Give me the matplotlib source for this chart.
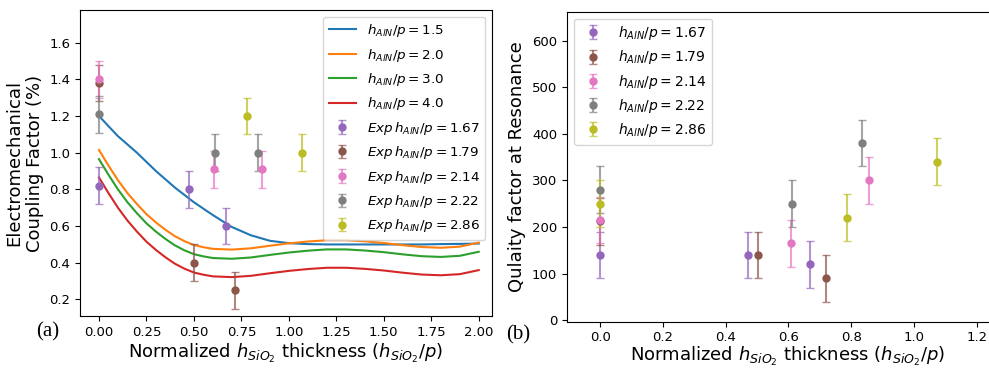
import numpy as np
import matplotlib
matplotlib.use('Agg')
import matplotlib.pyplot as plt

# simulated curves
sim_x = [0.0, 0.05, 0.1, 0.15, 0.2, 0.25, 0.3, 0.35, 0.4, 0.45, 0.5, 0.55, 0.6,
         0.7, 0.8, 0.9, 1.0, 1.1, 1.2, 1.3, 1.4, 1.5, 1.6, 1.7, 1.8, 1.9, 2.0]
sim_labels = [r'$h_{AlN}/p = 1.5$', r'$h_{AlN}/p = 2.0$',
              r'$h_{AlN}/p = 3.0$', r'$h_{AlN}/p = 4.0$']
k_15 = [1.20, 1.145, 1.09, 1.045, 1.00, 0.95, 0.90, 0.855, 0.81, 0.77, 0.73, 0.695, 0.66,
        0.595, 0.55, 0.52, 0.507, 0.502, 0.50, 0.50, 0.50, 0.50, 0.50, 0.50, 0.502, 0.503, 0.505]
k_20 = [1.015, 0.93, 0.85, 0.78, 0.72, 0.665, 0.62, 0.58, 0.545, 0.518, 0.497, 0.485, 0.476,
        0.472, 0.479, 0.493, 0.506, 0.516, 0.523, 0.523, 0.517, 0.508, 0.496, 0.486, 0.482, 0.488, 0.51]
k_30 = [0.965, 0.88, 0.80, 0.73, 0.67, 0.615, 0.57, 0.53, 0.495, 0.468, 0.447, 0.435, 0.426,
        0.422, 0.429, 0.443, 0.456, 0.466, 0.473, 0.473, 0.467, 0.458, 0.446, 0.436, 0.432, 0.438, 0.46]
k_40 = [0.865, 0.78, 0.70, 0.63, 0.57, 0.515, 0.47, 0.43, 0.395, 0.368, 0.347, 0.335, 0.326,
        0.322, 0.329, 0.343, 0.356, 0.366, 0.373, 0.373, 0.367, 0.358, 0.346, 0.336, 0.332, 0.338, 0.36]
sim_curves = [k_15, k_20, k_30, k_40]
sim_colors = ['tab:blue', 'tab:orange', 'tab:green', 'tab:red']

# experiments
exp_ratios = ['1.67', '1.79', '2.14', '2.22', '2.86']
exp_colors = ['tab:purple', 'tab:brown', 'tab:pink', 'tab:gray', 'tab:olive']
k_x = [[0.0, 0.472, 0.668], [0.0, 0.50, 0.714], [0.0, 0.607, 0.858],
       [0.0, 0.609, 0.835], [0.782, 1.068]]
k_y = [[0.82, 0.80, 0.60], [1.38, 0.40, 0.25], [1.40, 0.91, 0.91],
       [1.21, 1.00, 1.00], [1.20, 1.00]]
k_err = 0.1
q_x = [[0.0, 0.472, 0.669], [0.0, 0.502, 0.719], [0.0, 0.608, 0.858],
       [0.0, 0.612, 0.835], [0.0, 0.786, 1.074]]
q_y = [[140, 140, 120], [212, 140, 90], [215, 165, 300],
       [280, 250, 380], [250, 220, 340]]
q_err = 50

W, H = 989, 369
fig = plt.figure(figsize=(W / 100, H / 100), dpi=100)


def exp_points(ax, xs, ys, err, color, label):
    line, caps, bars = ax.errorbar(xs, ys, yerr=err, fmt='o', color=color, ms=5,
                                   capsize=2.7, elinewidth=1.5, label=label)
    for c in caps:
        c.set_alpha(0.7)
    for b in bars:
        b.set_alpha(0.7)


# (a) coupling factor
ax1 = fig.add_axes([80 / W, 1 - 316 / H, 412 / W, 306 / H])
for ys, c, lab in zip(sim_curves, sim_colors, sim_labels):
    ax1.plot(sim_x, ys, color=c, lw=1.5, label=lab)
for xs, ys, c, r in zip(k_x, k_y, exp_colors, exp_ratios):
    exp_points(ax1, xs, ys, k_err, c, r'$Exp\,h_{AlN}/p = %s$' % r)
ax1.set_xlim(-0.1, 2.07)
ax1.set_ylim(0.11, 1.778)
ax1.set_xticks([0, 0.25, 0.5, 0.75, 1.0, 1.25, 1.5, 1.75, 2.0])
ax1.set_yticks([0.2, 0.4, 0.6, 0.8, 1.0, 1.2, 1.4, 1.6])
ax1.tick_params(labelsize=9.5)
ax1.set_xlabel(r'Normalized $h_{SiO_2}$ thickness ($h_{SiO_2}/p$)', fontsize=13, labelpad=2)
ax1.set_ylabel('Electromechanical\nCoupling Factor (%)', fontsize=13, labelpad=4)
ax1.legend(loc='upper right', fontsize=9.7, labelspacing=0.55)

# (b) quality factor
ax2 = fig.add_axes([567 / W, 1 - 321.7 / H, 441 / W, 310 / H])
for xs, ys, c, r in zip(q_x, q_y, exp_colors, exp_ratios):
    exp_points(ax2, xs, ys, q_err, c, r'$h_{AlN}/p = %s$' % r)
ax2.set_xlim(-0.106, 1.3)
ax2.set_ylim(-3, 662)
ax2.set_xticks([0, 0.2, 0.4, 0.6, 0.8, 1.0, 1.2])
ax2.set_yticks([0, 100, 200, 300, 400, 500, 600])
ax2.tick_params(labelsize=9.5)
ax2.set_xlabel(r'Normalized $h_{SiO_2}$ thickness ($h_{SiO_2}/p$)', fontsize=13, labelpad=0.5)
ax2.set_ylabel('Qulaity factor at Resonance', fontsize=13, labelpad=4)
ax2.legend(loc='upper left', fontsize=10, labelspacing=0.45)

fig.text(48 / W, 1 - 332 / H, '(a)', family='Liberation Serif', fontsize=15,
         ha='center', va='center')
fig.text(518 / W, 1 - 335 / H, '(b)', family='Liberation Serif', fontsize=15,
         ha='center', va='center')

fig.savefig('out.png', dpi=100)
